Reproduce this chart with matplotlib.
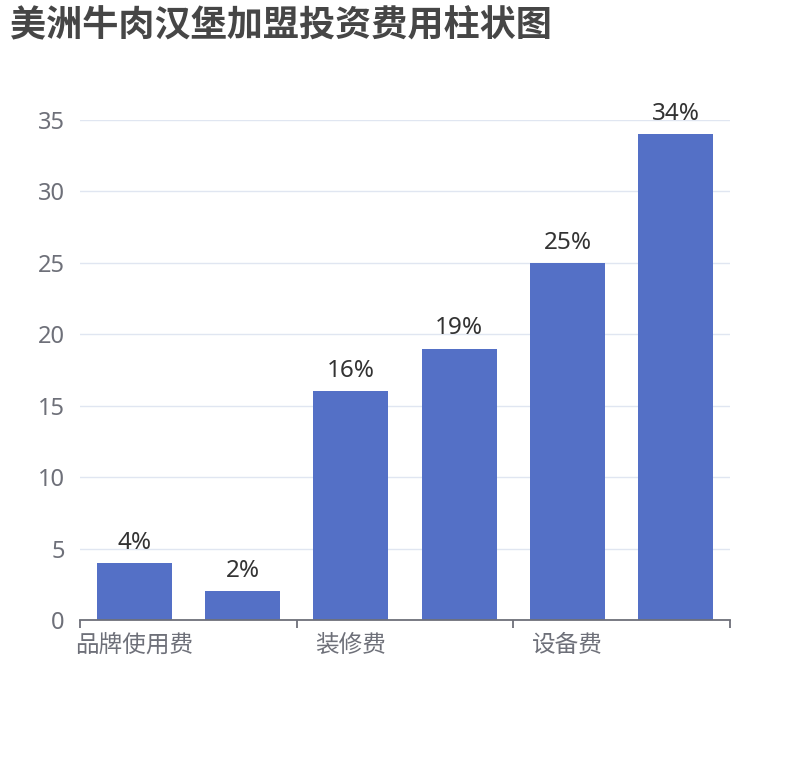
import matplotlib
matplotlib.use('Agg')
import matplotlib.pyplot as plt

plt.rcParams['font.family'] = ['Noto Sans', 'Noto Sans CJK SC', 'DejaVu Sans']

title = "美洲牛肉汉堡加盟投资费用柱状图"
categories = ['品牌使用费', '加盟费', '装修费', '房租', '设备费', '首批进货']
values = [4, 2, 16, 19, 25, 34]
labels = ['4%', '2%', '16%', '19%', '25%', '34%']
y_ticks = [0, 5, 10, 15, 20, 25, 30, 35]

fig = plt.figure(figsize=(8.1, 7.6), dpi=100)
ax = fig.add_axes([80 / 810, 1 - 620 / 760, 650 / 810, 500 / 760])

x = list(range(len(categories)))
bars = ax.bar(x, values, width=0.69, color='#5470c6', zorder=3)
for b, lab in zip(bars, labels):
    ax.annotate(lab, (b.get_x() + b.get_width() / 2, b.get_height()),
                xytext=(0, 6), textcoords='offset points',
                ha='center', va='bottom', fontsize=17.5, color='#333333')

ax.set_xlim(-0.5, len(categories) - 0.5)
ax.set_ylim(0, 35)
ax.set_yticks(y_ticks)
ax.grid(axis='y', color='#E0E6F1', linewidth=1, zorder=0)
ax.tick_params(axis='y', length=0, labelsize=17, labelcolor='#6E7079', pad=11)

# only every other category label is shown, ticks sit on group boundaries
ax.set_xticks(x[::2])
ax.set_xticklabels(categories[::2], fontsize=17)
ax.set_xticks([i - 0.5 for i in range(0, len(categories) + 1, 2)], minor=True)
ax.tick_params(axis='x', which='major', length=0,
               labelcolor='#6E7079', pad=10)
ax.tick_params(axis='x', which='minor', length=6, width=1.3, color='#6E7079')

for s in ['top', 'right', 'left']:
    ax.spines[s].set_visible(False)
ax.spines['bottom'].set_color('#6E7079')
ax.spines['bottom'].set_linewidth(1.3)
ax.spines['bottom'].set_zorder(4)

fig.text(10 / 810, 1 - 9 / 760, title, fontsize=26, fontweight='bold',
         color='#464646', ha='left', va='top')

fig.savefig('out.png', dpi=100)
